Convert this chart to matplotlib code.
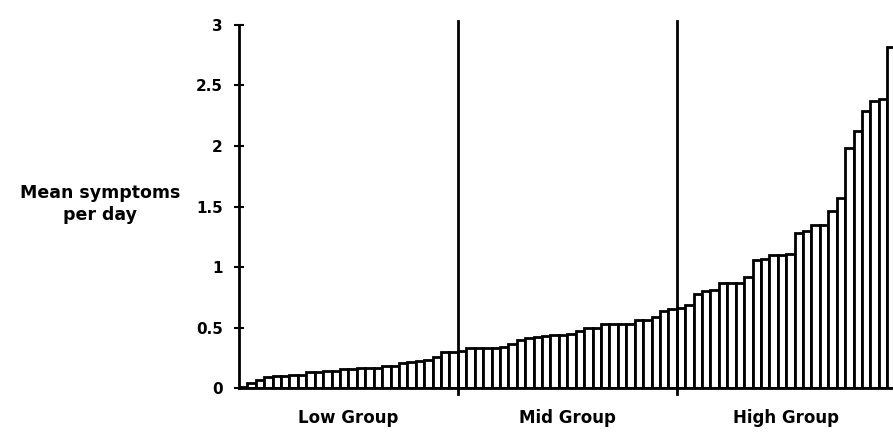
import numpy as np
import matplotlib.pyplot as plt

plt.rcParams['font.family'] = ['DejaVu Sans']

# 各组数据（按大小排序）
low_vals = [0.01, 0.04, 0.066, 0.088, 0.099, 0.099, 0.105, 0.105, 0.132, 0.132,
            0.143, 0.143, 0.154, 0.16, 0.168, 0.168, 0.168, 0.182, 0.185, 0.204,
            0.215, 0.226, 0.231, 0.259, 0.295, 0.295]
mid_vals = [0.31, 0.33, 0.33, 0.33, 0.335, 0.34, 0.36, 0.395, 0.41, 0.425,
            0.43, 0.435, 0.435, 0.45, 0.47, 0.50, 0.50, 0.53, 0.53, 0.53,
            0.53, 0.56, 0.56, 0.585, 0.635, 0.65]
high_vals = [0.66, 0.686, 0.777, 0.80, 0.81, 0.865, 0.87, 0.87, 0.915, 1.058,
             1.066, 1.097, 1.097, 1.107, 1.278, 1.30, 1.347, 1.347, 1.466, 1.573,
             1.98, 2.12, 2.29, 2.37, 2.39, 2.82]
group_names = ['Low Group', 'Mid Group', 'High Group']
y_ticks = [0, 0.5, 1, 1.5, 2, 2.5, 3]
y_tick_labels = ['0', '0.5', '1', '1.5', '2', '2.5', '3']

values = np.array(low_vals + mid_vals + high_vals)
n = len(values)
x = np.arange(n) + 0.5

fig = plt.figure(figsize=(8.93, 4.38), dpi=100)
ax = fig.add_axes([0.2676, 0.114, 0.7354, 0.829])

ax.bar(x, values, width=1.0, color='white', edgecolor='black', linewidth=2.0)

# 分组分隔线
bounds = [len(low_vals), len(low_vals) + len(mid_vals)]
for b in bounds:
    ax.plot([b, b], [-0.05, 3.03], color='black', linewidth=2.0, clip_on=False)

ax.set_xlim(0, n)
ax.set_ylim(0, 3)

for s in ['top', 'right']:
    ax.spines[s].set_visible(False)
ax.spines['left'].set_linewidth(2.0)
ax.spines['bottom'].set_linewidth(2.0)

ax.set_yticks(y_ticks)
ax.set_yticklabels(y_tick_labels, fontsize=11, fontweight='bold')
ax.tick_params(axis='y', direction='inout', length=7, width=1.5, pad=8)
ax.set_xticks([])

# 组名
starts = [0, bounds[0], bounds[1]]
ends = [bounds[0], bounds[1], n]
for name, s0, e0 in zip(group_names, starts, ends):
    ax.text((s0 + e0) / 2, -0.25, name, ha='center', va='center',
            fontsize=12, fontweight='bold')

fig.text(0.112, 0.534, 'Mean symptoms\nper day', ha='center', va='center',
         fontsize=12.5, fontweight='bold', linespacing=1.25)

plt.savefig('out.png', dpi=100)
